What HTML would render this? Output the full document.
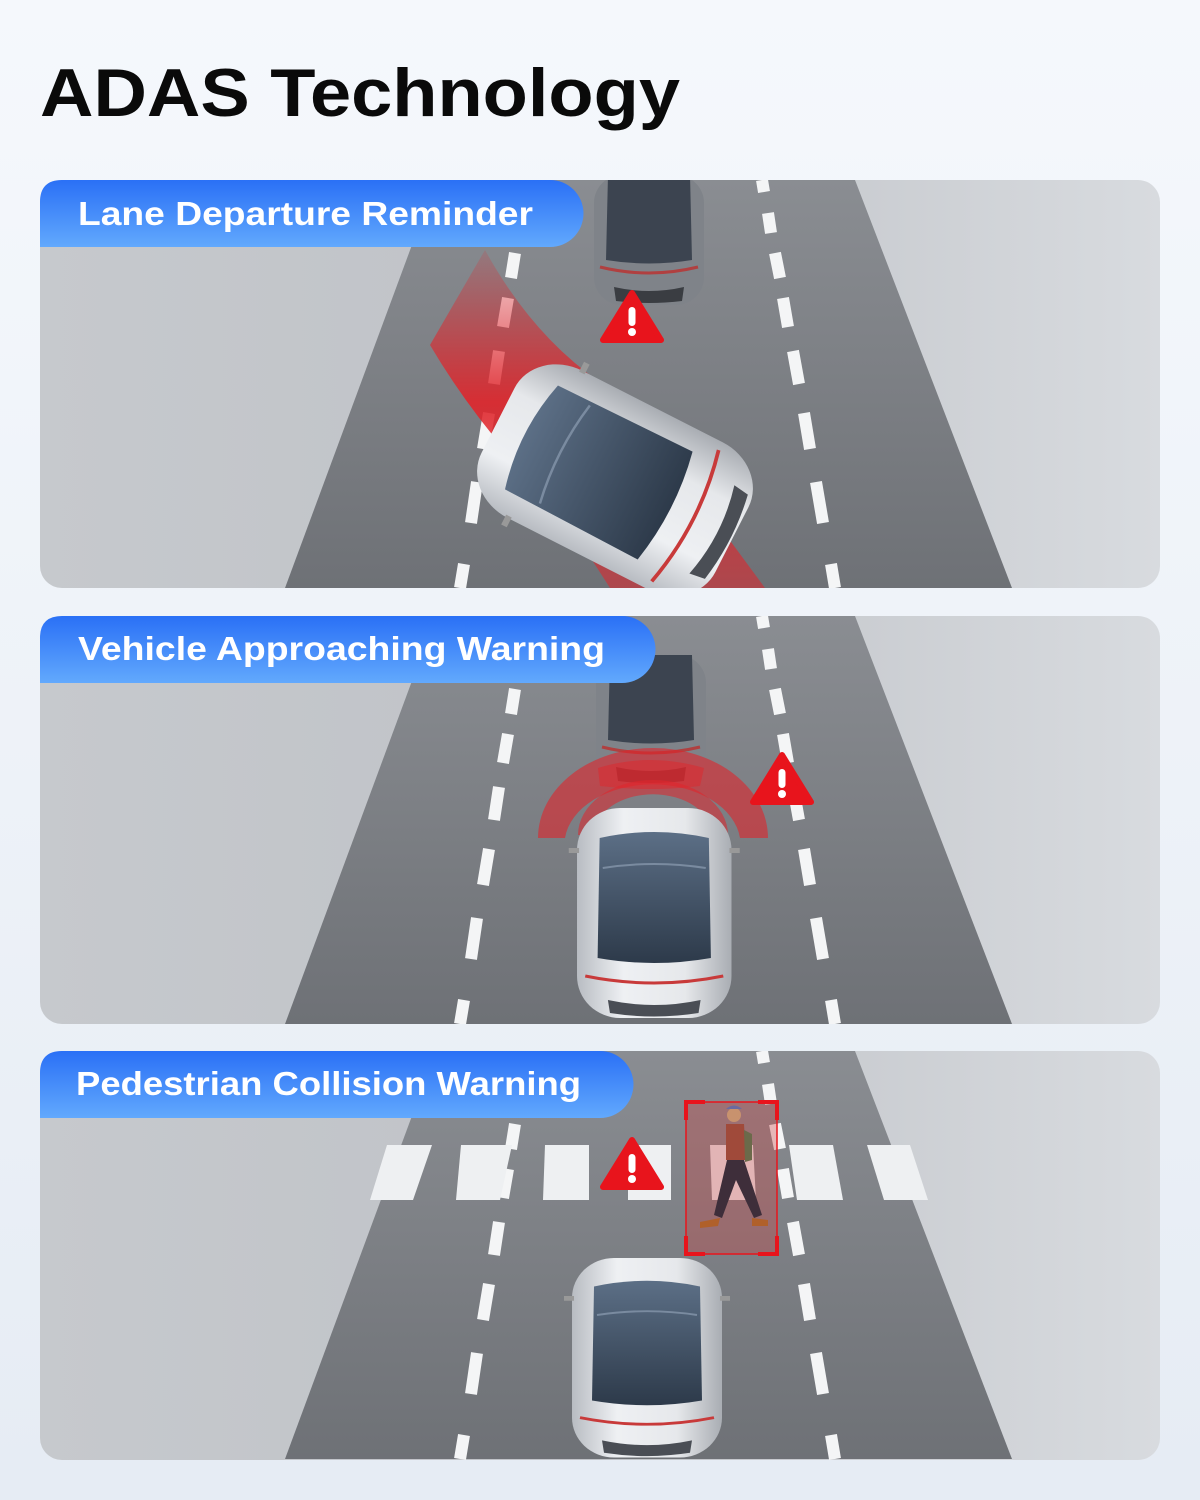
<!DOCTYPE html>
<html><head><meta charset="utf-8"><style>
html,body{margin:0;padding:0;width:1200px;height:1500px;overflow:hidden;background:#eef2f7}
svg{display:block}
</style></head><body>
<svg width="1200" height="1500" viewBox="0 0 1200 1500" xmlns="http://www.w3.org/2000/svg">
<defs>
<linearGradient id="bg" x1="0" y1="0" x2="0" y2="1"><stop offset="0" stop-color="#f5f8fc"/><stop offset="1" stop-color="#e6ecf4"/></linearGradient>
<linearGradient id="pan" x1="0" y1="0" x2="1" y2="0"><stop offset="0" stop-color="#c6c9cd"/><stop offset="0.5" stop-color="#bfc2c7"/><stop offset="1" stop-color="#d8dbdf"/></linearGradient>
<linearGradient id="road" x1="0" y1="0" x2="0" y2="1"><stop offset="0" stop-color="#8a8d92"/><stop offset="1" stop-color="#6e7176"/></linearGradient>
<linearGradient id="tab" x1="0" y1="0" x2="0" y2="1"><stop offset="0" stop-color="#2a70f6"/><stop offset="1" stop-color="#62a9fd"/></linearGradient>
<linearGradient id="body" x1="0" y1="0" x2="1" y2="0"><stop offset="0" stop-color="#b8bcc2"/><stop offset="0.3" stop-color="#eef0f3"/><stop offset="0.7" stop-color="#e6e8eb"/><stop offset="1" stop-color="#a9adb3"/></linearGradient>
<linearGradient id="glass" x1="0" y1="0" x2="0" y2="1"><stop offset="0" stop-color="#5c6f86"/><stop offset="1" stop-color="#2d3a4a"/></linearGradient>
<linearGradient id="redband" x1="0" y1="0" x2="0" y2="1"><stop offset="0" stop-color="#e0252b" stop-opacity="0.15"/><stop offset="0.45" stop-color="#e0252b" stop-opacity="0.9"/><stop offset="1" stop-color="#e0252b" stop-opacity="0.55"/></linearGradient>
<radialGradient id="arc" cx="0.5" cy="1" r="0.5"><stop offset="0.6" stop-color="#e0252b" stop-opacity="0"/><stop offset="0.85" stop-color="#e0252b" stop-opacity="0.85"/><stop offset="1" stop-color="#e0252b" stop-opacity="0.9"/></radialGradient>
<clipPath id="c1"><rect x="40" y="180" width="1120" height="408" rx="22"/></clipPath>
<clipPath id="c2"><rect x="40" y="616" width="1120" height="408" rx="22"/></clipPath>
<clipPath id="c3"><rect x="40" y="1051" width="1120" height="409" rx="22"/></clipPath>
<g id="car">
<rect x="0" y="0" width="150" height="210" rx="42" fill="url(#body)"/>
<rect x="-8" y="40" width="10" height="5" fill="#999"/><rect x="148" y="40" width="10" height="5" fill="#999"/>
<path d="M22,30 Q75,18 128,30 L130,150 Q75,160 20,150 Z" fill="url(#glass)"/>
<path d="M25,60 Q75,52 125,60" stroke="#7a8ba0" stroke-width="2" fill="none"/>
<path d="M8,168 Q75,182 142,168" stroke="#c83a3a" stroke-width="3" fill="none"/>
<path d="M30,192 Q75,202 120,192 L118,205 Q75,212 32,205 Z" fill="#4a4e55"/>
</g>
<g id="carD">
<rect x="0" y="0" width="110" height="130" rx="28" fill="#7f8389"/>
<path d="M14,0 L96,0 L98,85 Q55,92 12,85 Z" fill="#3c4450"/>
<path d="M6,92 Q55,104 104,92" stroke="#b04040" stroke-width="3" fill="none"/>
<path d="M20,112 Q55,120 90,112 L88,126 Q55,130 22,126 Z" fill="#3a3d42"/>
</g>
<g id="warn">
<path d="M0,-27 L29,20 L-29,20 Z" fill="#e8141c" stroke="#e8141c" stroke-width="6" stroke-linejoin="round"/>
<rect x="-3.5" y="-13" width="7" height="19" rx="3.5" fill="#fff"/>
<circle cx="0" cy="12" r="4" fill="#fff"/>
</g>
<g id="lanes" stroke="#f4f5f6" stroke-width="12">
<line x1="527" y1="0" x2="525" y2="12"/><line x1="522" y1="33" x2="518" y2="53"/><line x1="515" y1="73" x2="511" y2="98"/><line x1="508" y1="118" x2="503" y2="147"/><line x1="499" y1="171" x2="494" y2="204"/><line x1="489" y1="233" x2="483" y2="269"/><line x1="477" y1="302" x2="471" y2="343"/><line x1="464" y1="384" x2="460" y2="408"/>
<line x1="762" y1="0" x2="764" y2="12"/><line x1="768" y1="33" x2="771" y2="53"/><line x1="775" y1="73" x2="780" y2="98"/><line x1="783" y1="118" x2="788" y2="147"/><line x1="793" y1="171" x2="799" y2="204"/><line x1="804" y1="233" x2="810" y2="269"/><line x1="816" y1="302" x2="823" y2="343"/><line x1="831" y1="384" x2="835" y2="408"/>
</g>
<g id="roadg"><path d="M436,0 L855,0 L1012,408 L285,408 Z" fill="url(#road)"/></g>
</defs>
<rect width="1200" height="1500" fill="url(#bg)"/>
<text x="40" y="116" font-family="Liberation Sans, sans-serif" font-weight="bold" font-size="68" fill="#0a0a0a" textLength="640" lengthAdjust="spacingAndGlyphs">ADAS Technology</text>

<!-- Panel 1 -->
<g clip-path="url(#c1)">
<rect x="40" y="180" width="1120" height="408" fill="url(#pan)"/>
<use href="#roadg" transform="translate(0,180)"/>
<use href="#lanes" transform="translate(0,180)"/>
<use href="#carD" transform="translate(594,175)"/>
<path d="M485,250 Q540,350 625,398 L765,588 L610,588 L560,510 Q480,430 430,345 Z" fill="url(#redband)"/>
<use href="#car" transform="translate(615,480) rotate(-63) scale(1.1,1.25) translate(-75,-105)"/>
<use href="#warn" transform="translate(632,320)"/>
</g>
<path d="M40,202 Q40,180 62,180 L550,180 A33.5,33.5 0 0 1 550,247 L40,247 Z" fill="url(#tab)"/>
<text x="78" y="225" font-family="Liberation Sans, sans-serif" font-weight="bold" font-size="33" fill="#fff" textLength="455" lengthAdjust="spacingAndGlyphs">Lane Departure Reminder</text>

<!-- Panel 2 -->
<g clip-path="url(#c2)">
<rect x="40" y="616" width="1120" height="408" fill="url(#pan)"/>
<use href="#roadg" transform="translate(0,616)"/>
<use href="#lanes" transform="translate(0,616)"/>
<use href="#carD" transform="translate(596,655)"/>
<path d="M538,838 A115,90 0 0 1 768,838 L740,838 A88,60 0 0 0 565,838 Z" fill="#e0252b" opacity="0.6"/>
<path d="M578,835 A75,55 0 0 1 728,835 L712,835 A58,40 0 0 0 594,835 Z" fill="#e0252b" opacity="0.55"/>
<path d="M598,768 Q650,752 704,768 L700,786 Q650,792 600,786 Z" fill="#e0252b" opacity="0.5"/>
<use href="#car" transform="translate(577,808) scale(1.03,1.0)"/>
<use href="#warn" transform="translate(782,782)"/>
</g>
<path d="M40,638 Q40,616 62,616 L622,616 A33.5,33.5 0 0 1 622,683 L40,683 Z" fill="url(#tab)"/>
<text x="78" y="660" font-family="Liberation Sans, sans-serif" font-weight="bold" font-size="33" fill="#fff" textLength="527" lengthAdjust="spacingAndGlyphs">Vehicle Approaching Warning</text>

<!-- Panel 3 -->
<g clip-path="url(#c3)">
<rect x="40" y="1051" width="1120" height="409" fill="url(#pan)"/>
<use href="#roadg" transform="translate(0,1051)"/>
<use href="#lanes" transform="translate(0,1051)"/>
<g fill="#eef0f2">
<path d="M387,1145 L432,1145 L413,1200 L370,1200 Z"/>
<path d="M461,1145 L512,1145 L500,1200 L456,1200 Z"/>
<path d="M545,1145 L589,1145 L589,1200 L543,1200 Z"/>
<path d="M628,1145 L671,1145 L671,1200 L628,1200 Z"/>
<path d="M710,1145 L753,1145 L756,1200 L712,1200 Z"/>
<path d="M789,1145 L833,1145 L843,1200 L797,1200 Z"/>
<path d="M867,1145 L910,1145 L928,1200 L884,1200 Z"/>
</g>
<rect x="686" y="1102" width="91" height="152" fill="#c44" opacity="0.35"/>
<g fill="none" stroke="#e8141c" stroke-width="4">
<rect x="686" y="1102" width="91" height="152" stroke-width="1.5"/>
<path d="M686,1120 V1102 H705 M758,1102 H777 V1120 M686,1236 V1254 H705 M758,1254 H777 V1236"/>
</g>
<circle cx="734" cy="1115" r="7" fill="#c8926e"/>
<path d="M726,1109 Q734,1102 742,1109 Z" fill="#6a6aa0"/>
<path d="M726,1124 L744,1124 L746,1160 L726,1160 Z" fill="#a04a3a"/>
<path d="M744,1130 L752,1134 L752,1160 L745,1162 Z" fill="#6b6a4a"/>
<path d="M727,1160 L744,1160 L762,1215 L754,1218 L736,1180 L722,1218 L714,1215 Z" fill="#3e2e3a"/>
<path d="M700,1222 L720,1218 L718,1226 L700,1228 Z M752,1218 L768,1220 L768,1226 L752,1226 Z" fill="#b0602a"/>
<use href="#car" transform="translate(572,1258) scale(1.0,0.95)"/>
<use href="#warn" transform="translate(632,1167)"/>
</g>
<path d="M40,1073 Q40,1051 62,1051 L600,1051 A33.5,33.5 0 0 1 600,1118 L40,1118 Z" fill="url(#tab)"/>
<text x="76" y="1095" font-family="Liberation Sans, sans-serif" font-weight="bold" font-size="33" fill="#fff" textLength="505" lengthAdjust="spacingAndGlyphs">Pedestrian Collision Warning</text>
</svg>
</body></html>
